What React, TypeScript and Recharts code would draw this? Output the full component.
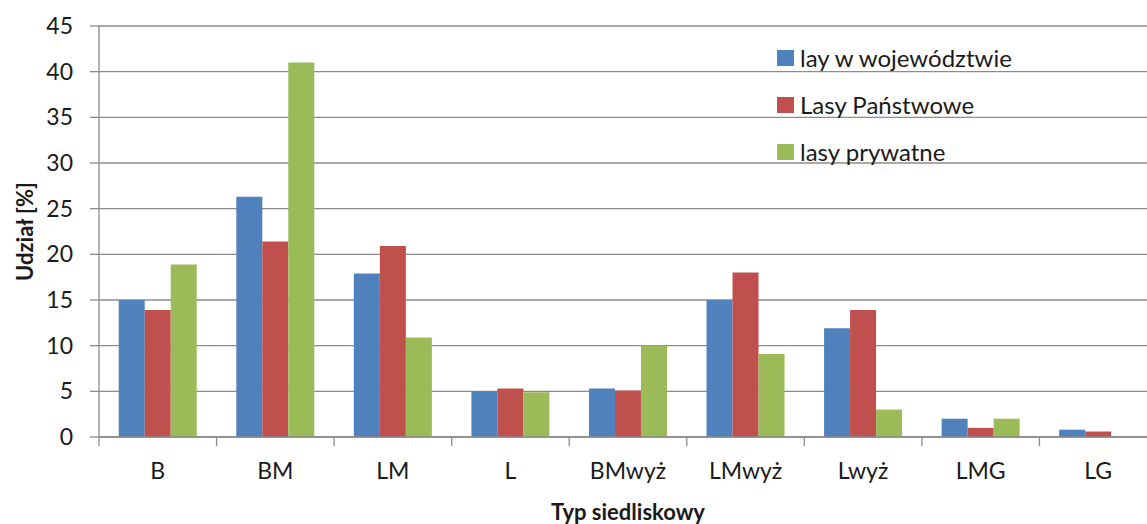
import React from "react";
import { BarChart, Bar, XAxis, YAxis, CartesianGrid } from "recharts";

const categories = ["B", "BM", "LM", "L", "BMwyż", "LMwyż", "Lwyż", "LMG", "LG"];
const seriesNames = ["lay w województwie", "Lasy Państwowe", "lasy prywatne"];
const wojewodztwo = [15.0, 26.3, 17.9, 5.0, 5.3, 15.0, 11.9, 2.0, 0.8];
const lasyPanstwowe = [13.9, 21.4, 20.9, 5.3, 5.1, 18.0, 13.9, 1.0, 0.6];
const lasyPrywatne = [18.9, 41.0, 10.9, 4.9, 10.0, 9.1, 3.0, 2.0, 0];
const yTicks = [0, 5, 10, 15, 20, 25, 30, 35, 40, 45];

const colors = ["#4F81BD", "#C0504D", "#9BBB59"];
const font = "Lato, 'Open Sans', sans-serif";
const fontSize = 23;
const textColor = "#1a1a1a";
const gridColor = "#8c8c8c";
const labelGap = 26;

const data = categories.map((name, i) => ({
    name,
    s0: wojewodztwo[i],
    s1: lasyPanstwowe[i],
    s2: lasyPrywatne[i],
}));

// legend: three rows, square + label, placed over the plot
function LegendBox() {
    return (
        <div style={{ position: "absolute", left: 777, top: 34, fontFamily: font, fontSize: 24, color: textColor }}>
            {seriesNames.map((n, i) => (
                <div key={n} style={{ display: "flex", alignItems: "center", height: 47 }}>
                    <span style={{ width: 17, height: 16, background: colors[i], marginRight: 6, display: "inline-block" }} />
                    <span>{n}</span>
                </div>
            ))}
        </div>
    );
}

// category label plus a tick mark at the left edge of its band (Excel style)
function CatTick(props: any) {
    const { x, y, payload } = props;
    const half = payload.offset || 0;
    const axisY = y - labelGap;
    return (
        <g>
            <line x1={x - half} y1={axisY} x2={x - half} y2={axisY + 9} stroke={gridColor} strokeWidth={1.3} />
            <text x={x} y={y} dy="0.71em" textAnchor="middle" style={{ fontFamily: font, fontSize, fill: textColor }}>
                {payload.value}
            </text>
        </g>
    );
}

function YLabel(props: any) {
    const vb = props.viewBox;
    const cx = vb.x + 24;
    const cy = vb.y + vb.height / 2;
    return (
        <text
            x={cx}
            y={cy}
            transform={`rotate(-90, ${cx}, ${cy})`}
            textAnchor="middle"
            dominantBaseline="central"
            style={{ fontFamily: font, fontSize: 22, fontWeight: 700, fill: textColor }}
        >
            Udział [%]
        </text>
    );
}

export default function App() {
    return (
        <div style={{ position: "absolute", left: 0, top: 0, width: 1147, height: 524, overflow: "hidden", background: "#fff" }}>
            <BarChart
                width={1157}
                height={524}
                data={data}
                margin={{ top: 26, right: 0, left: 0, bottom: 0 }}
                barCategoryGap="16.8%"
                barGap={0}
            >
                <CartesianGrid vertical={false} stroke={gridColor} strokeWidth={1.3} />
                <XAxis
                    dataKey="name"
                    height={87}
                    tickLine={false}
                    tickSize={0}
                    tickMargin={labelGap}
                    axisLine={{ stroke: gridColor, strokeWidth: 1.3 }}
                    tick={<CatTick />}
                    interval={0}
                    label={{
                        value: "Typ siedliskowy",
                        position: "insideBottom",
                        offset: 4,
                        style: { fontFamily: font, fontSize: 22, fontWeight: 700, fill: textColor },
                    }}
                />
                <YAxis
                    width={99}
                    domain={[0, 45]}
                    ticks={yTicks}
                    interval={0}
                    tickSize={9}
                    tickMargin={17}
                    axisLine={{ stroke: gridColor, strokeWidth: 1.3 }}
                    tickLine={{ stroke: gridColor, strokeWidth: 1.3 }}
                    tick={{ fontFamily: font, fontSize, fill: textColor }}
                    label={<YLabel />}
                />
                <Bar dataKey="s0" name={seriesNames[0]} fill={colors[0]} isAnimationActive={false} />
                <Bar dataKey="s1" name={seriesNames[1]} fill={colors[1]} isAnimationActive={false} />
                <Bar dataKey="s2" name={seriesNames[2]} fill={colors[2]} isAnimationActive={false} />
            </BarChart>
            <LegendBox />
        </div>
    );
}
